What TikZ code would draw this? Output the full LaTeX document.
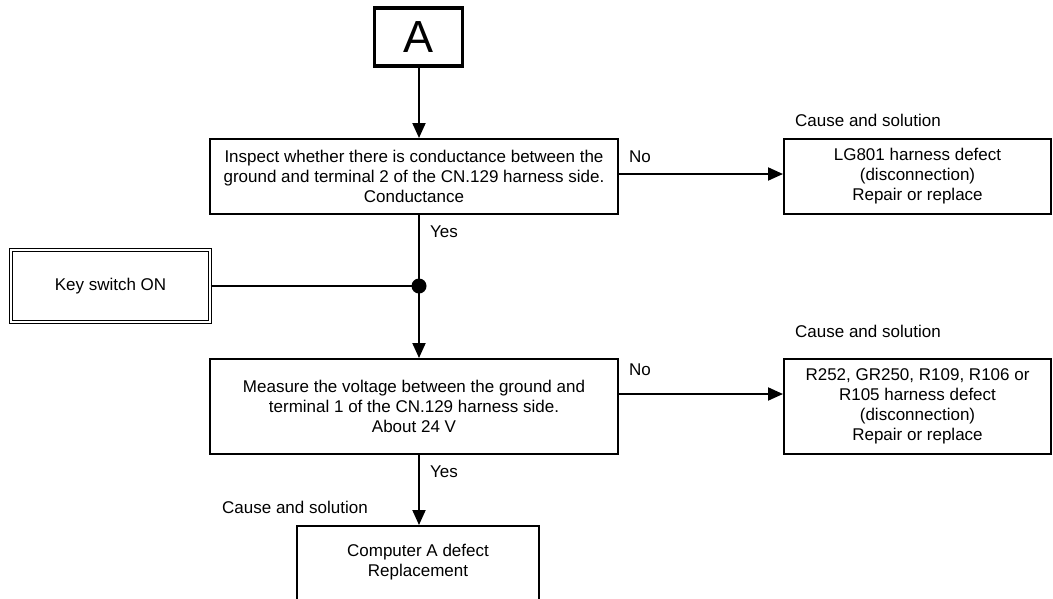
\documentclass[tikz,border=0pt]{standalone}
\usepackage{fontspec}
\setmainfont{Liberation Sans}
\usetikzlibrary{arrows.meta, positioning}

\begin{document}
\begin{tikzpicture}[x=1pt, y=-1pt,
    txt/.style={font=\fontsize{17}{20}\selectfont},
    flowbox/.style={txt, draw=black, line width=2pt, align=center, inner sep=0pt},
    note/.style={txt, anchor=west, inner sep=0pt},
    flowarrow/.style={-{Triangle[length=15pt, width=13pt]}, line width=2pt}]
  \clip (0,0) rectangle (1053,598);

  % start marker
  \node[flowbox, line width=3.5pt, minimum width=88pt, minimum height=58pt, font=\fontsize{45}{45}\selectfont] (start) at (418.5,37) {A};

  % checks
  \node[flowbox, minimum width=408pt, minimum height=75pt] (inspect) at (414,176.5) {Inspect whether there is conductance between the\\ground and terminal 2 of the CN.129 harness side.\\Conductance};
  \node[flowbox, minimum width=267pt, minimum height=75pt] (cause1) at (917.5,176.5) {LG801 harness defect\\(disconnection)\\Repair or replace};
  \node[flowbox, line width=1pt, double, double distance=2pt, minimum width=199pt, minimum height=72pt] (keyon) at (110.5,286) {Key switch ON};
  \node[flowbox, minimum width=408pt, minimum height=95pt] (measure) at (414,406.5) {Measure the voltage between the ground and\\terminal 1 of the CN.129 harness side.\\About 24 V};
  \node[flowbox, minimum width=267pt, minimum height=95pt] (cause2) at (917.5,406.5) {R252, GR250, R109, R106 or\\R105 harness defect\\(disconnection)\\Repair or replace};
  \node[flowbox, minimum width=242pt, minimum height=100pt, anchor=north] (cause3) at (418,525) {Computer A defect\\Replacement\\[12pt]};

  % labels
  \node[note] (cs1) at (795,120) {Cause and solution};
  \node[note] (cs2) at (795,331) {Cause and solution};
  \node[note] (cs3) at (222,507) {Cause and solution};
  \node[note] (no1) at (629,157) {No};
  \node[note] (no2) at (629,370) {No};
  \node[note] (yes1) at (430,232) {Yes};
  \node[note] (yes2) at (430,472) {Yes};

  \coordinate (junc) at (419,286);
  \fill (junc) circle (7.5pt);

  % connectors
  \draw[flowarrow] (start.south -| junc) -- (inspect.north -| junc);
  \draw[line width=2pt] (inspect.south -| junc) -- (junc);
  \draw[flowarrow] (junc) -- (measure.north -| junc);
  \draw[line width=2pt] (keyon.east) -- (junc);
  \draw[flowarrow] (inspect.east |- 0,174) -- (cause1.west |- 0,174);
  \draw[flowarrow] (measure.east |- 0,394) -- (cause2.west |- 0,394);
  \draw[flowarrow] (measure.south -| junc) -- (cause3.north -| junc);
\end{tikzpicture}
\end{document}
